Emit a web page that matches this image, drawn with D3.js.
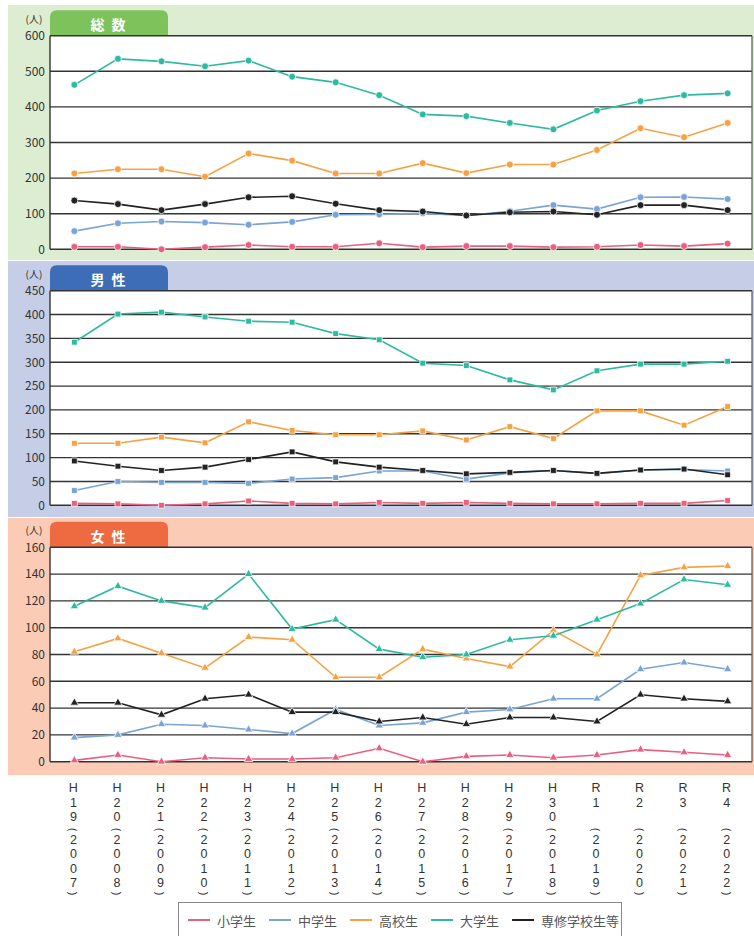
<!DOCTYPE html>
<html>
<head>
<meta charset="utf-8">
<script src="https://cdn.jsdelivr.net/npm/d3@7"></script>
<style>
  html, body { margin: 0; padding: 0; background: #fff; }
  svg { display: block; font-family: "Noto Sans CJK JP", "Noto Sans", sans-serif; }
</style>
</head>
<body>
<svg id="chart" width="754" height="936"></svg>
<script>
// Fiscal years: era label + western year
const eraLabels = ["H19","H20","H21","H22","H23","H24","H25","H26","H27","H28","H29","H30","R1","R2","R3","R4"];
const westernYears = ["2007","2008","2009","2010","2011","2012","2013","2014","2015","2016","2017","2018","2019","2020","2021","2022"];

const seriesNames = ["小学生","中学生","高校生","大学生","専修学校生等"];
const seriesColors = ["#e8607f","#7aa3d6","#f4a244","#2dbaa0","#222222"];

// 総数
const totalElementary = [7,7,0,6,12,7,7,17,6,9,9,6,7,12,9,16];
const totalJunior     = [51,73,78,75,69,77,97,98,101,95,107,124,113,146,147,141];
const totalHigh       = [213,225,225,204,269,249,213,213,242,214,238,238,279,340,315,355];
const totalUniv       = [462,535,528,514,530,485,469,433,379,374,355,337,390,416,433,438];
const totalVocational = [137,127,110,127,146,149,128,110,106,95,104,106,97,124,124,110];

// 男性
const maleElementary = [4,3,0,3,9,4,3,6,4,6,4,3,3,4,4,10];
const maleJunior     = [31,50,48,48,46,55,58,72,72,55,68,73,67,74,75,72];
const maleHigh       = [130,130,143,131,175,157,148,148,156,137,165,140,198,198,168,207];
const maleUniv       = [342,401,405,395,386,384,360,347,298,293,263,242,282,296,296,302];
const maleVocational = [93,82,73,80,96,112,91,80,73,66,69,73,67,74,76,64];

// 女性
const femaleElementary = [1,5,0,3,2,2,3,10,0,4,5,3,5,9,7,5];
const femaleJunior     = [18,20,28,27,24,21,39,27,29,37,39,47,47,69,74,69];
const femaleHigh       = [82,92,81,70,93,91,63,63,84,77,71,98,80,139,145,146];
const femaleUniv       = [116,131,120,115,140,99,106,84,78,80,91,94,106,118,136,132];
const femaleVocational = [44,44,35,47,50,37,37,30,33,28,33,33,30,50,47,45];

const yTicksTotal  = [0,100,200,300,400,500,600];
const yTicksMale   = [0,50,100,150,200,250,300,350,400,450];
const yTicksFemale = [0,20,40,60,80,100,120,140,160];

const svg = d3.select("#chart");
const W = 754;
const plotL = 50, plotR = 752;

const x = d3.scalePoint().domain(eraLabels).range([plotL, plotR]).padding(0.56);

const panels = [
  { title: "総 数", bg: "#dcedd2", tab: "#7dc25b", y0: 5, y1: 260, top: 35.7, bottom: 249.3,
    ticks: yTicksTotal, marker: "circle",
    data: [totalElementary, totalJunior, totalHigh, totalUniv, totalVocational] },
  { title: "男 性", bg: "#c5cde7", tab: "#3d6db6", y0: 261, y1: 517, top: 290.7, bottom: 505.3,
    ticks: yTicksMale, marker: "square",
    data: [maleElementary, maleJunior, maleHigh, maleUniv, maleVocational] },
  { title: "女 性", bg: "#fbcbb5", tab: "#ee6a40", y0: 518, y1: 775, top: 547.3, bottom: 761.7,
    ticks: yTicksFemale, marker: "triangle",
    data: [femaleElementary, femaleJunior, femaleHigh, femaleUniv, femaleVocational] }
];

panels.forEach(p => {
  const g = svg.append("g");
  const yMax = d3.max(p.ticks);
  const y = d3.scaleLinear().domain([0, yMax]).range([p.bottom, p.top]);

  // panel background
  g.append("rect").attr("x", 8).attr("y", p.y0).attr("width", W - 8).attr("height", p.y1 - p.y0)
    .attr("fill", p.bg);

  // title tab with rounded top corners
  const tx0 = plotL, tx1 = 168, ty0 = p.top - 25.5, ty1 = p.top, r = 7;
  g.append("path")
    .attr("d", `M${tx0},${ty1} L${tx0},${ty0 + r} Q${tx0},${ty0} ${tx0 + r},${ty0} L${tx1 - r},${ty0} Q${tx1},${ty0} ${tx1},${ty0 + r} L${tx1},${ty1} Z`)
    .attr("fill", p.tab);
  g.append("text").attr("x", (tx0 + tx1) / 2).attr("y", (ty0 + ty1) / 2 + 1)
    .attr("text-anchor", "middle").attr("dominant-baseline", "central")
    .attr("fill", "#fff").attr("font-size", 14).attr("font-weight", "bold")
    .attr("letter-spacing", 2).text(p.title);

  // plot area
  g.append("rect").attr("x", plotL).attr("y", p.top).attr("width", plotR - plotL)
    .attr("height", p.bottom - p.top).attr("fill", "#fff");

  // horizontal grid
  g.append("g").selectAll("line").data(p.ticks).join("line")
    .attr("x1", plotL).attr("x2", plotR)
    .attr("y1", d => y(d)).attr("y2", d => y(d))
    .attr("stroke", "#333").attr("stroke-width", 1.4);

  // frame sides
  g.append("line").attr("x1", plotL).attr("x2", plotL).attr("y1", p.top).attr("y2", p.bottom)
    .attr("stroke", "#333").attr("stroke-width", 1.4);
  g.append("line").attr("x1", plotR).attr("x2", plotR).attr("y1", p.top).attr("y2", p.bottom)
    .attr("stroke", "#555").attr("stroke-width", 1.2);

  // y axis labels
  const axis = d3.axisLeft(y).tickValues(p.ticks).tickSize(0).tickPadding(5);
  const ag = g.append("g").attr("transform", `translate(${plotL},0)`).call(axis);
  ag.select(".domain").remove();
  ag.selectAll("text").attr("font-size", 12).attr("fill", "#333")
    .attr("font-family", "'Noto Sans CJK JP', sans-serif");

  g.append("text").attr("x", 34).attr("y", p.top - 17.5).attr("text-anchor", "middle")
    .attr("dominant-baseline", "central").attr("font-size", 10).attr("fill", "#333").text("(人)");

  // series lines and markers
  const line = d3.line().x((d, i) => x(eraLabels[i])).y(d => y(d));
  p.data.forEach((vals, si) => {
    const col = seriesColors[si];
    g.append("path").datum(vals).attr("d", line)
      .attr("fill", "none").attr("stroke", col).attr("stroke-width", 1.6);

    const symType = p.marker === "circle" ? d3.symbolCircle
                  : p.marker === "square" ? d3.symbolSquare : d3.symbolTriangle;
    const symSize = p.marker === "circle" ? 38 : p.marker === "square" ? 34 : 30;
    g.append("g").selectAll("path").data(vals).join("path")
      .attr("transform", (d, i) => `translate(${x(eraLabels[i])},${y(d)})`)
      .attr("d", d3.symbol().type(symType).size(symSize))
      .attr("fill", col).attr("stroke", "#fff").attr("stroke-width", 0.9).attr("stroke-opacity", 0.85);
  });
});

// vertical year labels: characters stacked one per line, parentheses turned sideways
const xl = svg.append("g").attr("font-size", 12.5).attr("fill", "#333")
  .attr("font-family", "'Liberation Sans', Arial, sans-serif");
const eraSlots = [788, 802.5, 817];
eraLabels.forEach((era, i) => {
  const cx = x(era) - 1;
  era.split("").forEach((c, k) => {
    xl.append("text").attr("x", cx).attr("y", eraSlots[k]).attr("text-anchor", "middle")
      .attr("dominant-baseline", "central").text(c);
  });
  xl.append("text").attr("transform", `translate(${cx},829.5) rotate(90)`)
    .attr("text-anchor", "middle").attr("dominant-baseline", "central").attr("font-size", 11).text("(");
  westernYears[i].split("").forEach((c, k) => {
    xl.append("text").attr("x", cx).attr("y", 839.5 + k * 14.5).attr("text-anchor", "middle")
      .attr("dominant-baseline", "central").text(c);
  });
  xl.append("text").attr("transform", `translate(${cx},893.5) rotate(90)`)
    .attr("text-anchor", "middle").attr("dominant-baseline", "central").attr("font-size", 11).text(")");
});

// legend
const lg = svg.append("g");
lg.append("rect").attr("x", 178.5).attr("y", 902.5).attr("width", 443).attr("height", 60)
  .attr("fill", "#fff").attr("stroke", "#8a8a8a").attr("stroke-width", 1);
let lx = 188;
seriesNames.forEach((name, i) => {
  lg.append("line").attr("x1", lx).attr("x2", lx + 22).attr("y1", 920).attr("y2", 920)
    .attr("stroke", seriesColors[i]).attr("stroke-width", 2);
  const t = lg.append("text").attr("x", lx + 29).attr("y", 920).attr("dominant-baseline", "central")
    .attr("font-size", 13).attr("fill", "#555").text(name);
  lx += 29 + t.node().getComputedTextLength() + 13;
});
</script>
</body>
</html>
